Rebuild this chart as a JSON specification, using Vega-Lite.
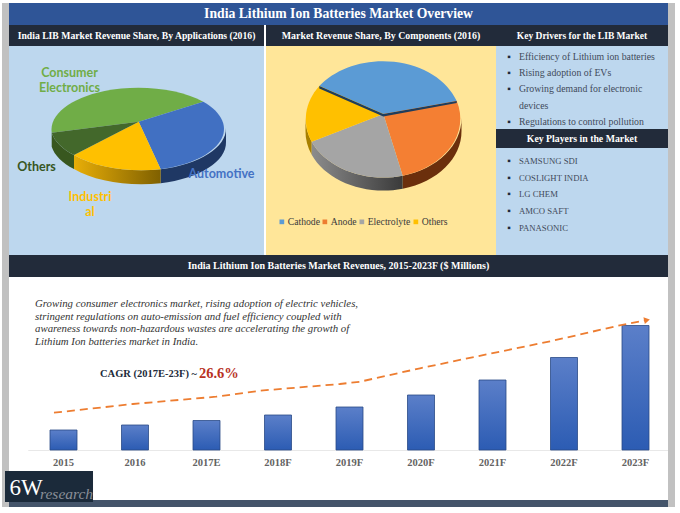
{"$schema":"https://vega.github.io/schema/vega-lite/v6.json","background":"white","padding":{"left":2,"top":3,"right":5,"bottom":6},"spacing":0,"config":{"view":{"stroke":null},"text":{"font":"Liberation Serif"},"concat":{"spacing":0}},
"datasets":{"apps":[{"application":"Consumer Electronics","label":"Consumer\nElectronics","share":44},{"application":"Automotive","label":"Automotive","share":27},{"application":"Industrial","label":"Industri\nal","share":18},{"application":"Others","label":"Others","share":11}],
"comps":[{"component":"Cathode","share":36},{"component":"Anode","share":26},{"component":"Electrolyte","share":23},{"component":"Others","share":15}]},
"hconcat":[
{"width":7,"height":504,"data":{"values":[{}]},"layer":[{"mark":{"type":"rect","color":"#c1c1c1"},"encoding":{}},{"mark":{"type":"rect","color":"#1b2a3a"},"encoding":{"x":{"datum":3,"type":"quantitative","axis":null,"scale":{"domain":[0,7],"nice":false,"zero":false}},"x2":{"datum":7},"y":{"datum":468,"type":"quantitative","axis":null,"scale":{"domain":[504,0],"nice":false,"zero":false}},"y2":{"datum":499}}}]},
{"spacing":0,"vconcat":[
{"width":659,"height":22,"view":{"fill":"#2f5597","stroke":null},"data":{"values":[{"title":"India Lithium Ion Batteries Market Overview"}]},"mark":{"type":"text","color":"white","fontWeight":"bold","fontSize":13.7},"encoding":{"text":{"field":"title"}}},
{"spacing":0,"hconcat":[
{"spacing":2,"hconcat":[
{"spacing":0,"vconcat":[
{"width":255,"height":21,"view":{"fill":"#222b3a","stroke":null},"data":{"values":[{"title":"India LIB Market Revenue Share, By  Applications (2016)"}]},"mark":{"type":"text","color":"white","fontWeight":"bold","fontSize":9.7},"encoding":{"text":{"field":"title"}}},
{"width":255,"height":209,"view":{"fill":"#bdd7ee","stroke":null},"data":{"name":"apps"},"resolve":{"scale":{"shape":"independent","color":"independent"}},"layer":[
{"transform":[{"filter":"datum.application == 'Automotive' || datum.application == 'Others'"}],"mark":{"type":"point","filled":true,"opacity":1,"size":4},"encoding":{"shape":{"field":"application","type":"nominal","legend":null,"scale":{"domain":["Automotive","Others"],"range":["M89.5,-22.5A87,42 0 0 1 24.2,18.8L24.2,32.8A87,42 0 0 0 89.5,-8.5Z","M-62.5,4.5A87,42 0 0 1 -84.8,-17.8L-84.8,-3.8A87,42 0 0 0 -62.5,18.5Z"]}},"color":{"field":"application","type":"nominal","legend":null,"scale":{"domain":["Automotive","Others"],"range":["#1f3864","#38571f"]}}}},
{"transform":[{"filter":"datum.application == 'Industrial'"}],"mark":{"type":"point","filled":true,"opacity":1,"size":4,"color":{"gradient":"linear","x1":0,"y1":0,"x2":1,"y2":0,"stops":[{"offset":0,"color":"#e8ae08"},{"offset":1,"color":"#7f6000"}]}},"encoding":{"shape":{"value":"M24.2,18.8A87,42 0 0 1 -62.5,4.5L-62.5,18.5A87,42 0 0 0 24.2,32.8Z"}}},
{"mark":{"type":"point","filled":true,"opacity":1,"size":4},"encoding":{"shape":{"field":"application","type":"nominal","legend":null,"scale":{"domain":["Consumer Electronics","Automotive","Industrial","Others"],"range":["M2.2,-28.8L-84.8,-17.8A87,42 0 0 1 66.8,-48.8Z","M2.2,-28.8L66.8,-48.8A87,42 0 0 1 24.2,18.8Z","M2.2,-28.8L24.2,18.8A87,42 0 0 1 -62.5,4.5Z","M2.2,-28.8L-62.5,4.5A87,42 0 0 1 -84.8,-17.8Z"]}},"color":{"field":"application","type":"nominal","legend":null,"scale":{"domain":["Consumer Electronics","Automotive","Industrial","Others"],"range":["#70ad47","#4170c2","#ffc000","#43682b"]}}}},
{"transform":[{"filter":"datum.application == 'Consumer Electronics'"}],"mark":{"type":"text","font":"Lato","fontWeight":"bold","fontSize":12.5,"lineBreak":"\n","lineHeight":14.5,"color":"#70ad47","dx":-67,"dy":-77.5},"encoding":{"text":{"field":"label"}}},
{"transform":[{"filter":"datum.application == 'Automotive'"}],"mark":{"type":"text","font":"Lato","fontWeight":"bold","fontSize":12.5,"color":"#4472c4","dx":85,"dy":23.5},"encoding":{"text":{"field":"label"}}},
{"transform":[{"filter":"datum.application == 'Others'"}],"mark":{"type":"text","font":"Lato","fontWeight":"bold","fontSize":12.5,"color":"#375623","dx":-100,"dy":16.5},"encoding":{"text":{"field":"label"}}},
{"transform":[{"filter":"datum.application == 'Industrial'"}],"mark":{"type":"text","font":"Lato","fontWeight":"bold","fontSize":12.5,"lineBreak":"\n","lineHeight":15,"color":"#ffc000","dx":-46.5,"dy":46.5},"encoding":{"text":{"field":"label"}}}
]}
]},
{"spacing":0,"vconcat":[
{"width":230,"height":21,"view":{"fill":"#222b3a","stroke":null},"data":{"values":[{"title":"Market Revenue Share, By Components (2016)"}]},"mark":{"type":"text","color":"white","fontWeight":"bold","fontSize":9.9},"encoding":{"text":{"field":"title"}}},
{"width":230,"height":209,"view":{"fill":"#ffe699","stroke":null},"data":{"name":"comps"},"resolve":{"scale":{"shape":"independent","color":"independent"}},"layer":[
{"transform":[{"filter":"datum.component == 'Anode' || datum.component == 'Others'"}],"mark":{"type":"point","filled":true,"opacity":1,"size":4},"encoding":{"shape":{"field":"component","type":"nominal","legend":null,"scale":{"domain":["Anode","Others"],"range":["M80.5,-32.5A78,59 0 0 1 21.7,25.2L21.7,38.2A78,59 0 0 0 80.5,-19.5Z","M-69.3,-8.8A78,59 0 0 1 -75.5,-32.5L-75.5,-19.5A78,59 0 0 0 -69.3,4.2Z"]}},"color":{"field":"component","type":"nominal","legend":null,"scale":{"domain":["Anode","Others"],"range":["#6b2f0c","#a88000"]}}}},
{"transform":[{"filter":"datum.component == 'Electrolyte'"}],"mark":{"type":"point","filled":true,"opacity":1,"size":4,"color":{"gradient":"linear","x1":0,"y1":0,"x2":1,"y2":0,"stops":[{"offset":0,"color":"#8c8c8c"},{"offset":1,"color":"#3a3a3a"}]}},"encoding":{"shape":{"value":"M21.7,25.2A78,59 0 0 1 -69.3,-8.8L-69.3,4.2A78,59 0 0 0 21.7,38.2Z"}}},
{"mark":{"type":"point","filled":true,"opacity":1,"size":4},"encoding":{"shape":{"field":"component","type":"nominal","legend":null,"scale":{"domain":["Cathode","Anode","Electrolyte","Others"],"range":["M2.3,-36.5L-61.7,-64.5A78,59 0 0 1 75.7,-49.5Z","M2.3,-36.5L75.7,-49.5A78,59 0 0 1 21.7,25.2Z","M2.3,-36.5L21.7,25.2A78,59 0 0 1 -69.3,-8.8Z","M2.3,-36.5L-69.3,-8.8A78,59 0 0 1 -61.7,-64.5Z"]}},"color":{"field":"component","type":"nominal","legend":null,"scale":{"domain":["Cathode","Anode","Electrolyte","Others"],"range":["#5b9bd5","#f47f33","#a5a5a5","#ffc000"]}}}},
{"transform":[{"filter":"datum.component == 'Cathode'"}],"mark":{"type":"point","filled":true,"opacity":1,"size":4,"color":"#1f3d5c"},"encoding":{"shape":{"value":"M-61.7,-64.5L2.3,-36.5L75.7,-49.5L75.7,-47.5L2.3,-34L-61.7,-62Z"}}},
{"mark":{"type":"square","size":0,"opacity":1},"encoding":{"color":{"field":"component","type":"nominal","scale":{"domain":["Cathode","Anode","Electrolyte","Others"],"range":["#5b9bd5","#ed7d31","#a5a5a5","#ffc000"]},"legend":{"title":null,"orient":"none","legendX":11,"legendY":171,"direction":"horizontal","columns":4,"gridAlign":"none","symbolType":"square","symbolSize":22,"labelFont":"Liberation Serif","labelFontSize":9.7,"labelColor":"#3b3b3b","columnPadding":0,"labelOffset":1,"symbolStrokeWidth":0}}}}
]}
]}
]},
{"spacing":0,"vconcat":[
{"width":172,"height":21,"view":{"fill":"#222b3a","stroke":null},"data":{"values":[{"title":"Key Drivers for the LIB Market"}]},"mark":{"type":"text","color":"white","fontWeight":"bold","fontSize":9.5},"encoding":{"text":{"field":"title"}}},
{"width":172,"height":83,"view":{"fill":"#bdd7ee","stroke":null},"data":{"values":[{"item":"Efficiency of Lithium ion batteries","bullet":"▪"},{"item":"Rising adoption of EVs","bullet":"▪"},{"item":"Growing demand for electronic","bullet":"▪"},{"item":"devices","bullet":""},{"item":"Regulations to control pollution","bullet":"▪"}]},"encoding":{"y":{"field":"item","type":"ordinal","sort":null,"axis":null,"scale":{"type":"point","range":[10.5,76],"padding":0}}},"layer":[
{"mark":{"type":"text","color":"#1f2a3a","fontSize":10,"dx":-73},"encoding":{"text":{"field":"bullet"}}},
{"mark":{"type":"text","align":"left","color":"#3f4a5a","fontSize":9.8,"dx":-63},"encoding":{"text":{"field":"item"}}}
]},
{"width":172,"height":19,"view":{"fill":"#222b3a","stroke":null},"data":{"values":[{"title":"Key Players in the Market"}]},"mark":{"type":"text","color":"white","fontWeight":"bold","fontSize":9.8},"encoding":{"text":{"field":"title"}}},
{"width":172,"height":107,"view":{"fill":"#bdd7ee","stroke":null},"data":{"values":[{"item":"SAMSUNG SDI"},{"item":"COSLIGHT INDIA"},{"item":"LG CHEM"},{"item":"AMCO SAFT"},{"item":"PANASONIC"}]},"encoding":{"y":{"field":"item","type":"ordinal","sort":null,"axis":null,"scale":{"type":"point","range":[12.7,80],"padding":0}}},"layer":[
{"mark":{"type":"text","color":"#1f2a3a","fontSize":10,"dx":-73,"text":"▪"},"encoding":{}},
{"mark":{"type":"text","align":"left","color":"#3f4a5a","fontSize":8.7,"dx":-63},"encoding":{"text":{"field":"item"}}}
]}
]}
]},
{"width":659,"height":22,"view":{"fill":"#222b3a","stroke":null},"data":{"values":[{"title":"India  Lithium Ion Batteries Market Revenues, 2015-2023F ($ Millions)"}]},"mark":{"type":"text","color":"white","fontWeight":"bold","fontSize":10},"encoding":{"text":{"field":"title"}}},
{"width":659,"height":230,"view":{"fill":"white","stroke":null},"resolve":{"scale":{"x":"independent"}},"layer":[
{"data":{"values":[{"year":"2015","revenue":20},{"year":"2016","revenue":25},{"year":"2017E","revenue":29.5},{"year":"2018F","revenue":35},{"year":"2019F","revenue":43},{"year":"2020F","revenue":55},{"year":"2021F","revenue":70},{"year":"2022F","revenue":92.5},{"year":"2023F","revenue":124.5}]},"mark":{"type":"bar","size":27,"stroke":"#2a4a86","strokeWidth":0.8,"color":{"gradient":"linear","x1":0,"y1":0,"x2":0,"y2":1,"stops":[{"offset":0,"color":"#5b7fc9"},{"offset":1,"color":"#2c5cb3"}]}},"encoding":{"x":{"field":"year","type":"nominal","sort":null,"scale":{"type":"band","range":[18.75,662.25]},"axis":{"title":null,"orient":"bottom","offset":-57,"ticks":false,"labelAngle":0,"labelFont":"Liberation Serif","labelFontSize":10.5,"labelFontWeight":"bold","labelColor":"#636363","labelPadding":7,"domainColor":"#e8e8e8"}},"y":{"field":"revenue","type":"quantitative","axis":null,"scale":{"domain":[-57,173],"nice":false,"zero":false}}}},
{"data":{"values":[{"t":2014.867,"trend":37.3},{"t":2015.972,"trend":46},{"t":2017.133,"trend":53.3},{"t":2017.749,"trend":59.3},{"t":2018.867,"trend":66},{"t":2019.147,"trend":68.3},{"t":2019.986,"trend":81.7},{"t":2020.923,"trend":95.7},{"t":2021.846,"trend":109.3},{"t":2022.741,"trend":124},{"t":2023.161,"trend":130}]},"mark":{"type":"line","color":"#ed7d31","strokeWidth":1.8,"strokeDash":[8,5]},"encoding":{"x":{"field":"t","type":"quantitative","axis":null,"scale":{"domain":[2014.238,2023.455],"nice":false,"zero":false}},"y":{"field":"trend","type":"quantitative","axis":null}}},
{"data":{"values":[{"t":2023.161,"trend":130}]},"mark":{"type":"point","filled":true,"opacity":1,"color":"#ed7d31","shape":"triangle-right","size":45,"angle":-12},"encoding":{"x":{"field":"t","type":"quantitative","axis":null,"scale":{"domain":[2014.238,2023.455],"nice":false,"zero":false}},"y":{"field":"trend","type":"quantitative","axis":null}}},
{"data":{"values":[{"note":"Growing consumer electronics market, rising adoption of electric vehicles,\nstringent regulations on auto-emission and fuel efficiency coupled with\nawareness towards non-hazardous wastes are accelerating the growth of\nLithium Ion batteries market in India."}]},"mark":{"type":"text","align":"left","fontStyle":"italic","fontSize":10.8,"lineBreak":"\n","lineHeight":12.6,"color":"#333333"},"encoding":{"text":{"field":"note"},"x":{"datum":2014.602,"type":"quantitative","axis":null,"scale":{"domain":[2014.238,2023.455],"nice":false,"zero":false}},"y":{"datum":146,"type":"quantitative","axis":null}}},
{"data":{"values":[{"note":"CAGR (2017E-23F) ~"}]},"mark":{"type":"text","align":"left","fontWeight":"bold","fontSize":10.5,"color":"#222b3a"},"encoding":{"text":{"field":"note"},"x":{"datum":2015.511,"type":"quantitative","axis":null,"scale":{"domain":[2014.238,2023.455],"nice":false,"zero":false}},"y":{"datum":76,"type":"quantitative","axis":null}}},
{"data":{"values":[{"note":"26.6%"}]},"mark":{"type":"text","align":"left","fontWeight":"bold","fontSize":14.5,"color":"#b8321f"},"encoding":{"text":{"field":"note"},"x":{"datum":2016.895,"type":"quantitative","axis":null,"scale":{"domain":[2014.238,2023.455],"nice":false,"zero":false}},"y":{"datum":76,"type":"quantitative","axis":null}}},
{"data":{"values":[{}]},"mark":{"type":"rect","color":"#44546a"},"encoding":{"y":{"datum":-50,"type":"quantitative","axis":null},"y2":{"datum":-57}}},
{"data":{"values":[{}]},"mark":{"type":"rect","color":"#1b2a3a"},"encoding":{"x":{"datum":2014.238,"type":"quantitative","axis":null,"scale":{"domain":[2014.238,2023.455],"nice":false,"zero":false}},"x2":{"datum":2015.413},"y":{"datum":-21,"type":"quantitative","axis":null},"y2":{"datum":-52}}},
{"data":{"values":[{"logo":"6W"}]},"mark":{"type":"text","align":"left","fontSize":23,"color":"white"},"encoding":{"text":{"field":"logo"},"x":{"datum":2014.245,"type":"quantitative","axis":null,"scale":{"domain":[2014.238,2023.455],"nice":false,"zero":false}},"y":{"datum":-38,"type":"quantitative","axis":null}}},
{"data":{"values":[{"logo":"research"}]},"mark":{"type":"text","align":"left","fontSize":15.5,"fontStyle":"italic","color":"#8a8f98"},"encoding":{"text":{"field":"logo"},"x":{"datum":2014.672,"type":"quantitative","axis":null,"scale":{"domain":[2014.238,2023.455],"nice":false,"zero":false}},"y":{"datum":-44,"type":"quantitative","axis":null}}}
]}
]},
{"width":7,"height":504,"data":{"values":[{}]},"mark":{"type":"rect","color":"#c1c1c1"},"encoding":{}}
]}
